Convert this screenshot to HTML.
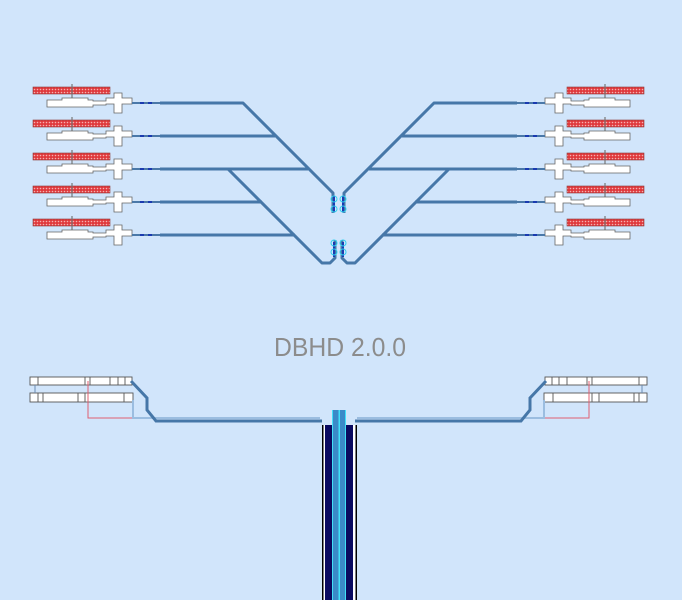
<!DOCTYPE html>
<html><head><meta charset="utf-8"><style>
html,body{margin:0;padding:0;background:#d1e5fb;}
svg{display:block}
</style></head><body>
<svg width="682" height="600" viewBox="0 0 682 600" xmlns="http://www.w3.org/2000/svg">
<defs>
<pattern id="dots" width="3" height="3" patternUnits="userSpaceOnUse">
<rect width="3" height="3" fill="#e0393c"/><circle cx="1.5" cy="1.5" r="0.8" fill="#f6b0b0"/>
</pattern>
<g id="conn">
<rect x="33" y="-16" width="77" height="7" fill="url(#dots)" stroke="#8a3a3a" stroke-width="0.6"/>
<line x1="72" y1="-19" x2="72" y2="-3" stroke="#777" stroke-width="1.2"/>
<path d="M47,-3 H62 V-5 H88 V-3 H93 V-2 H106 V-5 H114 V-10 H122 V-5 H132 V1 H122 V10 H114 V1 H106 V2 H93 V4 H47 Z" fill="#fff" stroke="#666" stroke-width="0.8"/>
<line x1="132" y1="0" x2="165" y2="0" stroke="#4a78a8" stroke-width="2"/>
<line x1="140" y1="0" x2="144" y2="0" stroke="#1a3ab0" stroke-width="2"/>
<line x1="148" y1="0" x2="152" y2="0" stroke="#1a3ab0" stroke-width="2"/>
</g>
<g id="half">
<use href="#conn" y="103"/><use href="#conn" y="136"/><use href="#conn" y="169"/><use href="#conn" y="202"/><use href="#conn" y="235"/>
<g fill="none" stroke="#4677a8" stroke-width="3" stroke-linejoin="round">
<path d="M160,103 H243 L333,193 V213"/>
<path d="M160,136 H275"/>
<path d="M160,169 H308"/>
<path d="M228,169 L322,263 H330 L335,258 V240"/>
<path d="M160,202 H262"/>
<path d="M160,235 H295"/>
</g>
<line x1="334" y1="196" x2="334" y2="212" stroke="#1a3ab0" stroke-width="2"/>
<line x1="334" y1="242" x2="334" y2="257" stroke="#1a3ab0" stroke-width="2"/>
<circle cx="334" cy="199" r="3" fill="none" stroke="#30d0f0" stroke-width="1"/>
<circle cx="334" cy="209" r="3" fill="none" stroke="#30d0f0" stroke-width="1"/>
<circle cx="334" cy="243" r="3" fill="none" stroke="#30d0f0" stroke-width="1"/>
<circle cx="334" cy="252" r="3" fill="none" stroke="#30d0f0" stroke-width="1"/>
<g stroke="#555" stroke-width="0.9" fill="#fff">
<rect x="30" y="377" width="102" height="8"/>
<rect x="30" y="393" width="103" height="9"/>
<line x1="38" y1="377" x2="38" y2="385"/><line x1="85" y1="377" x2="85" y2="385"/><line x1="90" y1="377" x2="90" y2="385"/><line x1="110" y1="377" x2="110" y2="385"/><line x1="118" y1="377" x2="118" y2="385"/><line x1="125" y1="377" x2="125" y2="385"/>
<line x1="38" y1="393" x2="38" y2="402"/><line x1="43" y1="393" x2="43" y2="402"/><line x1="78" y1="393" x2="78" y2="402"/><line x1="85" y1="393" x2="85" y2="402"/><line x1="124" y1="393" x2="124" y2="402"/>
</g>
<line x1="35" y1="385" x2="35" y2="393" stroke="#6a8ab0" stroke-width="1"/>
<path d="M88,381 V418 H320" fill="none" stroke="#e06070" stroke-width="1"/>
<path d="M133,400 V418 H320" fill="none" stroke="#9bbde0" stroke-width="2"/>
<path d="M131,381 L147,398 V410 L156,421 H322" fill="none" stroke="#4677a8" stroke-width="3"/>
</g>
</defs>
<use href="#half"/>
<use href="#half" transform="translate(677,0) scale(-1,1)"/>
<rect x="322" y="425" width="35" height="175" fill="#fff"/>
<rect x="322" y="425" width="1.5" height="175" fill="#000"/>
<rect x="355.5" y="425" width="1.5" height="175" fill="#000"/>
<rect x="325" y="425" width="7" height="175" fill="#0a0a60"/>
<rect x="346" y="425" width="7" height="175" fill="#0a0a60"/>
<rect x="332" y="410" width="14" height="190" fill="#3a8ac8"/>
<rect x="332" y="410" width="1" height="190" fill="#40e0f8"/>
<rect x="338.5" y="410" width="1.5" height="190" fill="#40e0f8"/>
<rect x="345" y="410" width="1" height="190" fill="#40e0f8"/>
<text x="340" y="356" text-anchor="middle" font-family="Liberation Sans, sans-serif" font-size="26" fill="#8c8c8c" textLength="132" lengthAdjust="spacingAndGlyphs">DBHD 2.0.0</text>
</svg>
</body></html>
